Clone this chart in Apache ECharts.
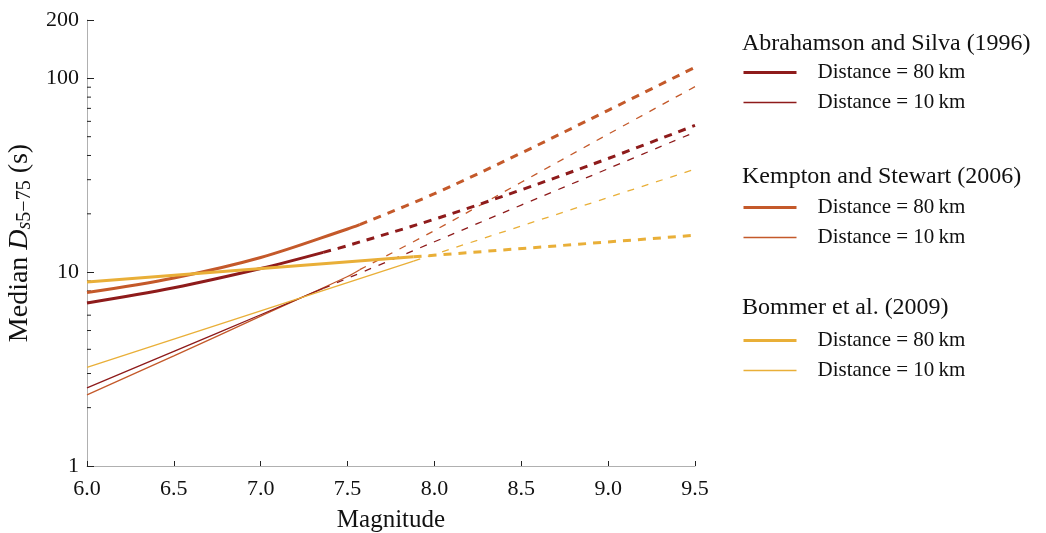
<!DOCTYPE html>
<html><head><meta charset="utf-8">
<script src="https://cdn.jsdelivr.net/npm/echarts@6/dist/echarts.min.js"></script>
<style>html,body{margin:0;padding:0;background:#fff}#c{width:1046px;height:533px}</style>
</head><body><div id="c"></div>
<script>
// ---- data: [magnitude, median Ds5-75 (s)] ----
const asFarSolid   = [[6.0,6.94],[6.5,8.31],[7.0,10.44],[7.36,12.65]];
const asFarDashed  = [[7.36,12.65],[7.5,13.71],[8.0,18.76],[8.5,26.6],[9.0,38.6],[9.5,57.2]];
const asNearSolid  = [[6.0,2.53],[6.5,3.90],[7.0,6.03],[7.36,8.24]];
const asNearDashed = [[7.36,8.24],[8.0,14.35],[8.5,22.2],[9.0,34.2],[9.5,52.8]];
const ksFarSolid   = [[6.0,7.85],[6.5,9.33],[7.0,11.9],[7.5,16.7],[7.57,17.6]];
const ksFarDashed  = [[7.57,17.6],[8.0,25.4],[8.5,41.2],[9.0,68.4],[9.5,114]];
const ksNearSolid  = [[6.0,2.33],[6.5,3.70],[7.0,5.93],[7.5,9.5],[7.57,10.3]];
const ksNearDashed = [[7.57,10.3],[8.0,16.4],[8.5,29.1],[9.0,51.5],[9.5,90.6]];
const bFarSolid    = [[6.0,8.91],[7.88,12.0]];
const bFarDashed   = [[7.88,12.0],[9.5,15.5]];
const bNearSolid   = [[6.0,3.23],[7.88,11.4]];
const bNearDashed  = [[7.88,11.4],[9.5,34.0]];

const groupTitles = ['Abrahamson and Silva (1996)','Kempton and Stewart (2006)','Bommer et al. (2009)'];
const legendLabels = {far:'Distance = 80\u2009km', near:'Distance = 10\u2009km'};
const yMinorTicks = [2,3,4,5,6,7,8,9,20,30,40,50,60,70,80,90];
const xMin = 6.0, xMax = 9.5, xInterval = 0.5;
const yMin = 1, yMax = 200;

const FONT = "'Liberation Serif','DejaVu Serif',serif";
const C_AS = '#8e1b1b', C_KS = '#c4592a', C_B = '#e9af38';
const W_FAR = 3, W_NEAR = 1.3;

function line(name, data, color, width, dashed, smooth) {
  return {
    name, type:'line', data, showSymbol:false, symbol:'none', smooth: smooth ? 0.35 : false,
    silent:true, animation:false,
    lineStyle:{color, width, type: dashed ? (width > 2 ? [8,7] : [7,8]) : 'solid', cap:'butt'},
    itemStyle:{color}
  };
}

const series = [
  line('KS06 10', ksNearSolid, C_KS, W_NEAR, false, true),
  line('KS06 10 ext', ksNearDashed, C_KS, W_NEAR, true, true),
  line('AS96 10', asNearSolid, C_AS, W_NEAR, false, true),
  line('AS96 10 ext', asNearDashed, C_AS, W_NEAR, true, true),
  line('B09 10', bNearSolid, C_B, W_NEAR, false, false),
  line('B09 10 ext', bNearDashed, C_B, W_NEAR, true, false),
  line('KS06 80', ksFarSolid, C_KS, W_FAR, false, true),
  line('KS06 80 ext', ksFarDashed, C_KS, W_FAR, true, true),
  line('AS96 80', asFarSolid, C_AS, W_FAR, false, true),
  line('AS96 80 ext', asFarDashed, C_AS, W_FAR, true, true),
  line('B09 80', bFarSolid, C_B, W_FAR, false, false),
  line('B09 80 ext', bFarDashed, C_B, W_FAR, true, false),
  {
    type:'custom', silent:true, animation:false, clip:false,
    data: yMinorTicks.map(v => [xMin, v]),
    renderItem: (params, api) => {
      const p = api.coord([api.value(0), api.value(1)]);
      return {type:'line', shape:{x1:p[0], y1:p[1], x2:p[0]+4, y2:p[1]},
              style:{stroke:'#222', lineWidth:1}};
    }
  }
];

function legend(prefix, top) {
  return {
    data: [{name: prefix + ' 80', lineStyle:{width:W_FAR}}, {name: prefix + ' 10', lineStyle:{width:W_NEAR}}],
    top, left:742, padding:0, orient:'vertical', itemWidth:53, itemHeight:20, itemGap:9,
    selectedMode:false,
    itemStyle:{opacity:0, borderWidth:0},
    lineStyle:{width:'inherit'},
    formatter: n => n.endsWith('80') ? legendLabels.far : legendLabels.near,
    textStyle:{fontFamily:FONT, fontSize:21, color:'#111', padding:[0,0,0,16]}
  };
}
function title(text, top) {
  return {text, left:742, top, padding:0,
    textStyle:{fontFamily:FONT, fontSize:24, fontWeight:'normal', color:'#111'}};
}

const chart = echarts.init(document.getElementById('c'), null, {renderer:'canvas'});
chart.setOption({
  animation:false,
  backgroundColor:'#fff',
  textStyle:{fontFamily:FONT},
  title:[title(groupTitles[0], 32), title(groupTitles[1], 165), title(groupTitles[2], 296)],
  legend:[legend('AS96', 62), legend('KS06', 197), legend('B09', 330)],
  grid:{left:87, right:351, top:20, bottom:67, containLabel:false, outerBoundsMode:'none'},
  xAxis:{
    type:'value', min:xMin, max:xMax, interval:xInterval,
    name:'Magnitude', nameLocation:'middle', nameGap:42,
    nameTextStyle:{fontFamily:FONT, fontSize:25, color:'#111'},
    axisLine:{onZero:false, lineStyle:{color:'#b0b0b0', width:1}},
    axisTick:{inside:true, length:5, lineStyle:{color:'#222'}},
    axisLabel:{fontFamily:FONT, fontSize:22, color:'#111', margin:12, formatter:v => v.toFixed(1)},
    splitLine:{show:false}
  },
  yAxis:{
    type:'log', logBase:10, min:yMin, max:yMax,
    name:'{n|Median }{i|D}{si|s}{sub|5\u221275}{n| (s)}', nameLocation:'middle', nameGap:50, nameRotate:90,
    nameTextStyle:{fontFamily:FONT, fontSize:28, color:'#111',
      rich:{
        n:{fontFamily:FONT, fontSize:28, color:'#111', lineHeight:30, verticalAlign:'middle'},
        i:{fontFamily:FONT, fontSize:28, color:'#111', fontStyle:'italic', lineHeight:30, verticalAlign:'middle'},
        si:{fontFamily:FONT, fontSize:20, color:'#111', fontStyle:'italic', lineHeight:20, verticalAlign:'bottom'},
        sub:{fontFamily:FONT, fontSize:20, color:'#111', lineHeight:20, verticalAlign:'bottom'}
      }},
    axisLine:{lineStyle:{color:'#b0b0b0', width:1}},
    axisTick:{inside:true, length:7, lineStyle:{color:'#222'}},
    axisLabel:{fontFamily:FONT, fontSize:22, color:'#111', margin:8},
    splitLine:{show:false},
    minorTick:{show:false}
  },
  series
});
</script></body></html>
